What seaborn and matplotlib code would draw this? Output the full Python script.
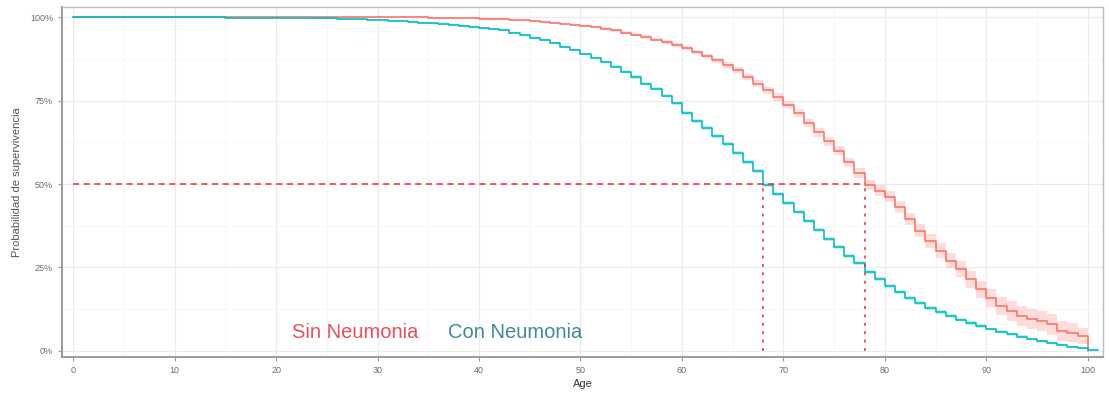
import numpy as np
import pandas as pd
import matplotlib
matplotlib.use("Agg")
import matplotlib.pyplot as plt
import seaborn as sns
from matplotlib.ticker import MultipleLocator, FuncFormatter

# ---------------- data ----------------
groups = ["Sin Neumonia", "Con Neumonia"]
colors = {"Sin Neumonia": "#F8766D", "Con Neumonia": "#00BFC4"}
label_colors = {"Sin Neumonia": "#E8505A", "Con Neumonia": "#3E8A9C"}

ages_con = list(range(0, 102))
surv_con = [
    1.000, 1.000, 1.000, 1.000, 0.999, 0.999, 0.999, 0.999, 0.999, 0.999,
    0.999, 0.999, 0.999, 0.999, 0.999, 0.998, 0.998, 0.998, 0.998, 0.998,
    0.998, 0.998, 0.997, 0.997, 0.996, 0.996, 0.995, 0.994, 0.993, 0.992,
    0.990, 0.989, 0.987, 0.985, 0.983, 0.981, 0.978, 0.976, 0.973, 0.970,
    0.967, 0.964, 0.960, 0.953, 0.946, 0.938, 0.930, 0.922, 0.911, 0.900,
    0.889, 0.877, 0.865, 0.851, 0.836, 0.820, 0.800, 0.785, 0.765, 0.742,
    0.712, 0.690, 0.668, 0.645, 0.620, 0.593, 0.567, 0.538, 0.497, 0.470,
    0.443, 0.415, 0.388, 0.362, 0.336, 0.310, 0.285, 0.262, 0.238, 0.216,
    0.196, 0.177, 0.160, 0.144, 0.130, 0.117, 0.105, 0.094, 0.084, 0.075,
    0.066, 0.058, 0.050, 0.043, 0.036, 0.029, 0.023, 0.017, 0.012, 0.008,
    0.004, 0.003,
]
ci_con = [
    0.001, 0.001, 0.001, 0.001, 0.001, 0.001, 0.001, 0.001, 0.001, 0.001,
    0.001, 0.001, 0.001, 0.001, 0.001, 0.001, 0.001, 0.001, 0.001, 0.001,
    0.001, 0.001, 0.001, 0.001, 0.001, 0.001, 0.001, 0.001, 0.001, 0.001,
    0.002, 0.002, 0.002, 0.002, 0.002, 0.002, 0.002, 0.002, 0.002, 0.002,
    0.003, 0.003, 0.003, 0.003, 0.003, 0.003, 0.003, 0.003, 0.003, 0.003,
    0.004, 0.004, 0.004, 0.004, 0.004, 0.005, 0.005, 0.005, 0.005, 0.005,
    0.006, 0.006, 0.006, 0.006, 0.006, 0.006, 0.006, 0.006, 0.006, 0.006,
    0.006, 0.006, 0.006, 0.006, 0.006, 0.006, 0.006, 0.006, 0.006, 0.006,
    0.006, 0.006, 0.006, 0.006, 0.006, 0.005, 0.005, 0.005, 0.005, 0.005,
    0.004, 0.004, 0.004, 0.004, 0.004, 0.004, 0.003, 0.003, 0.003, 0.003,
    0.002, 0.002,
]

ages_sin = list(range(0, 101))
surv_sin = [
    1.000, 1.000, 1.000, 1.000, 1.000, 1.000, 1.000, 1.000, 1.000, 1.000,
    1.000, 1.000, 1.000, 1.000, 1.000, 1.000, 1.000, 1.000, 1.000, 1.000,
    1.000, 1.000, 1.000, 1.000, 1.000, 1.000, 1.000, 1.000, 1.000, 1.000,
    1.000, 1.000, 0.999, 0.999, 0.999, 0.998, 0.998, 0.997, 0.997, 0.996,
    0.995, 0.994, 0.993, 0.992, 0.990, 0.988, 0.986, 0.983, 0.980, 0.977,
    0.973, 0.969, 0.965, 0.960, 0.953, 0.947, 0.940, 0.932, 0.924, 0.915,
    0.906, 0.895, 0.883, 0.870, 0.856, 0.840, 0.820, 0.800, 0.780, 0.760,
    0.738, 0.712, 0.684, 0.655, 0.628, 0.600, 0.565, 0.532, 0.497, 0.480,
    0.462, 0.430, 0.395, 0.360, 0.330, 0.300, 0.270, 0.245, 0.215, 0.185,
    0.160, 0.135, 0.120, 0.105, 0.097, 0.090, 0.080, 0.060, 0.055, 0.045,
    0.000,
]
ci_sin = [
    0.001, 0.001, 0.001, 0.001, 0.001, 0.001, 0.001, 0.001, 0.001, 0.001,
    0.001, 0.001, 0.001, 0.001, 0.001, 0.001, 0.001, 0.001, 0.001, 0.001,
    0.001, 0.001, 0.001, 0.001, 0.001, 0.001, 0.001, 0.001, 0.001, 0.001,
    0.001, 0.001, 0.001, 0.001, 0.001, 0.001, 0.001, 0.001, 0.001, 0.001,
    0.002, 0.002, 0.002, 0.002, 0.002, 0.002, 0.002, 0.002, 0.002, 0.002,
    0.003, 0.003, 0.004, 0.004, 0.004, 0.005, 0.005, 0.005, 0.006, 0.006,
    0.006, 0.007, 0.007, 0.008, 0.008, 0.009, 0.009, 0.010, 0.010, 0.011,
    0.011, 0.012, 0.012, 0.013, 0.013, 0.014, 0.014, 0.015, 0.016, 0.016,
    0.017, 0.018, 0.019, 0.020, 0.021, 0.022, 0.023, 0.024, 0.025, 0.026,
    0.027, 0.028, 0.029, 0.030, 0.030, 0.031, 0.031, 0.030, 0.029, 0.025,
    0.000,
]

medians = [68, 78]
median_level = 0.5

x_ticks = [0, 10, 20, 30, 40, 50, 60, 70, 80, 90, 100]
y_ticks = [0, 0.25, 0.5, 0.75, 1.0]

# ---------------- frame ----------------
df = pd.concat([
    pd.DataFrame({"age": ages_sin, "surv": surv_sin, "ci": ci_sin, "grupo": "Sin Neumonia"}),
    pd.DataFrame({"age": ages_con, "surv": surv_con, "ci": ci_con, "grupo": "Con Neumonia"}),
], ignore_index=True)
df["lo"] = (df["surv"] - df["ci"]).clip(lower=0)
df["hi"] = (df["surv"] + df["ci"]).clip(upper=1)

# ---------------- plot ----------------
sns.set_theme(style="white")
plt.rcParams["font.family"] = ["Liberation Sans", "DejaVu Sans"]

fig = plt.figure(figsize=(11.09, 3.96), dpi=100)
ax = fig.add_axes([62 / 1109, 1 - 357 / 396, (1103 - 62) / 1109, (357 - 7) / 396])

for g in groups:
    sub = df[df["grupo"] == g]
    ax.fill_between(sub["age"], sub["lo"], sub["hi"], step="post",
                    color=colors[g], alpha=0.25, linewidth=0)

sns.lineplot(data=df, x="age", y="surv", hue="grupo", hue_order=groups,
             palette=colors, estimator=None, drawstyle="steps-post",
             linewidth=1.2, ax=ax, legend=False)

# median lines
med_color = "#E0303A"
ax.plot([0, max(medians)], [median_level, median_level], color=med_color,
        linestyle=(0, (4, 3)), linewidth=1.1, zorder=5)
for m in medians:
    ax.plot([m, m], [0, median_level], color=med_color,
            linestyle=(0, (2, 3.5)), linewidth=1.1, zorder=5)

ax.set_xlim(-1.1, 101.5)
ax.set_ylim(-0.018, 1.03)
ax.set_xticks(x_ticks)
ax.set_yticks(y_ticks)
ax.xaxis.set_minor_locator(MultipleLocator(5))
ax.yaxis.set_minor_locator(MultipleLocator(0.125))
ax.yaxis.set_major_formatter(FuncFormatter(lambda v, p: f"{int(round(v * 100))}%"))

ax.grid(which="major", color="#EBEBEB", linewidth=0.8)
ax.grid(which="minor", color="#F4F4F4", linewidth=0.5)
ax.set_axisbelow(True)

for s in ax.spines.values():
    s.set_color("#BDBDBD")
    s.set_linewidth(1.0)
ax.spines["left"].set_color("#9A9A9A")
ax.spines["bottom"].set_color("#9A9A9A")
ax.spines["left"].set_linewidth(1.4)
ax.spines["bottom"].set_linewidth(1.4)

ax.tick_params(axis="both", which="major", length=3, width=0.8, color="#9A9A9A",
               labelsize=6.5, labelcolor="#6A6A6A", direction="out",
               bottom=True, left=True)
ax.tick_params(which="minor", length=0)

ax.set_xlabel("Age", fontsize=8, color="#333333", labelpad=3)
ax.set_ylabel("Probabilidad de supervivencia", fontsize=8, color="#555555", labelpad=6)

# legend as coloured labels
ax.text(0.221, 0.069, "Sin Neumonia", transform=ax.transAxes, fontsize=14.5,
        color=label_colors["Sin Neumonia"], va="center", ha="left")
ax.text(0.371, 0.069, "Con Neumonia", transform=ax.transAxes, fontsize=14.5,
        color=label_colors["Con Neumonia"], va="center", ha="left")

fig.savefig("out.png", dpi=100)
